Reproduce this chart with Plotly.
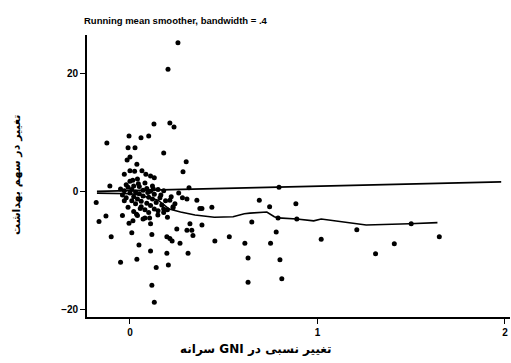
import plotly.graph_objects as go

# Scatter points (relative change in GNI per capita, change in share)
pts_x = [0.256, 0.203, 0.128, 0.213, 0.235, -0.123, -0.005, 0.059, 0.100, -0.010, 0.027,
         0.180, 0.300, 0.283, 0.000, -0.015, 0.037,
         -0.030, 0.000, 0.025, 0.064, 0.085, 0.110, 0.130,
         -0.180, -0.165, -0.128, -0.107, -0.100, -0.050, -0.040, -0.005, 0.016, 0.010,
         0.048, 0.037, 0.117, 0.110, 0.117, 0.130, 0.140, 0.110, 0.105, 0.080, 0.149,
         0.180, 0.200, 0.180, 0.230, 0.197, 0.213, 0.225, 0.197, 0.205, 0.250, 0.267,
         0.304, 0.310, 0.320, 0.330, 0.336, 0.384, 0.384, 0.357, 0.373, 0.437, 0.453,
         0.530, 0.613, 0.630, 0.630, 0.650, 0.690, 0.745, 0.795, 0.885, 0.780, 0.750,
         0.800, 0.810, 0.790, 0.890, 1.020, 1.210, 1.310, 1.410, 1.500, 1.650,
         0.213, 0.304, 0.230, 0.315,
         -0.05, -0.04, -0.03, -0.02, -0.02, -0.01, 0.00, 0.00, 0.01, 0.01, 0.02, 0.02,
         0.03, 0.03, 0.04, 0.04, 0.05, 0.05, 0.06, 0.06, 0.07, 0.07, 0.08, 0.08, 0.09,
         0.09, 0.10, 0.10, 0.11, 0.11, 0.12, 0.12, 0.13, 0.13, 0.14, 0.15, 0.15, 0.16,
         0.17, 0.18, 0.19, 0.20, 0.22, 0.24, 0.26, 0.28, 0.02, -0.01, 0.04, 0.07,
         -0.03, 0.015, 0.045, 0.095, 0.125, 0.165, 0.055, 0.035]
pts_y = [25.3, 20.8, 11.5, 11.7, 11.0, 8.3, 9.5, 9.2, 9.5, 7.5, 7.5,
         6.6, 5.1, 3.4, 5.9, 5.4, 4.7,
         3.0, 3.6, 3.5, 3.6, 3.0, 2.7, 2.4,
         -1.8, -5.0, -4.1, 1.0, -7.6, -11.9, -4.0, -5.3, -4.9, -6.9,
         -9.0, -11.4, -7.2, -10.0, -15.8, -18.7, -12.8, -5.4, -4.4, -4.4, -3.9,
         -3.5, -4.3, -2.9, -2.5, -7.6, -7.9, -8.3, -10.4, -12.4, -6.3, -8.7,
         -6.5, -10.4, -5.4, -6.5, -7.4, -5.6, -2.8, -1.4, -2.8, -2.6, -8.3,
         -7.6, -8.7, -11.2, -15.3, -5.1, -1.4, -2.5, 0.8, -2.0, -6.8, -8.7,
         -11.5, -14.7, -4.4, -4.6, -8.0, -6.4, -10.5, -8.8, -5.4, -7.6,
         -1.4, -1.2, -2.7, 0.7,
         0.5, -0.5, 0.2, 1.2, -1.0, 0.8, -0.2, 1.8, -1.5, 0.4, -0.8, 1.0,
         -2.0, 0.0, 2.2, -1.2, -0.3, 0.9, -2.5, -1.6, 0.3, -0.7, 1.5, -3.0, -1.9,
         0.6, -0.9, -3.5, 0.1, -2.3, -1.2, 1.0, -2.9, -0.4, -1.8, 0.4, -3.2, -1.0,
         -2.2, 0.2, -1.5, -3.0, -0.8, -2.0, -0.2, -1.0, -3.3, -2.6, -4.0, -4.6,
         -1.5, 2.0, 1.4, -0.1, 0.5, -0.5, -2.8, -3.8]

# Running mean smoother
smooth_x = [-0.176, 0.0, 0.05, 0.10, 0.15, 0.21, 0.27, 0.347, 0.45, 0.55, 0.61, 0.64,
            0.73, 0.77, 0.79, 0.89, 0.98, 1.02, 1.26, 1.49, 1.64]
smooth_y = [-0.2, -0.3, -0.5, -1.0, -1.4, -2.9, -3.4, -3.9, -4.3, -4.2, -3.7, -3.6,
            -3.4, -4.2, -4.4, -4.6, -4.9, -4.6, -5.6, -5.4, -5.2]

# Reference (fit) line
fit_x = [-0.176, 1.98]
fit_y = [0.1, 1.7]

x_ticks = [0, 1, 2]
y_ticks = [-20, 0, 20]

title_text = "Running mean smoother, bandwidth = .4"
x_title = "\u202bتغییر نسبی در GNI سرانه\u202c"
y_title = "\u202bتغییر در سهم بهداشت\u202c"

fig = go.Figure()
fig.add_trace(go.Scatter(x=fit_x, y=fit_y, mode="lines",
                         line=dict(color="black", width=1.6), hoverinfo="skip"))
fig.add_trace(go.Scatter(x=smooth_x, y=smooth_y, mode="lines",
                         line=dict(color="black", width=1.6), hoverinfo="skip"))
fig.add_trace(go.Scatter(x=pts_x, y=pts_y, mode="markers",
                         marker=dict(color="black", size=5)))

font_fam = "Liberation Sans, Arial, sans-serif"
fig.update_layout(
    width=511, height=363,
    margin=dict(l=87, r=1, t=35, b=46),
    paper_bgcolor="white", plot_bgcolor="white",
    showlegend=False,
    font=dict(family=font_fam, color="black"),
)
fig.update_xaxes(range=[-0.229, 2.027], tickvals=x_ticks, ticks="outside", ticklen=5,
                 tickwidth=1.3, tickcolor="black", showline=True, linecolor="black",
                 linewidth=1.6, showgrid=False, zeroline=False, ticklabeloverflow="allow",
                 tickfont=dict(size=10, family=font_fam, weight="bold"))
fig.update_yaxes(range=[-21.2, 26.6], tickvals=y_ticks, ticks="outside", ticklen=5,
                 tickwidth=1.3, tickcolor="black", showline=True, linecolor="black",
                 linewidth=1.6, showgrid=False, zeroline=False,
                 tickfont=dict(size=10, family=font_fam, weight="bold"))

# positions below are expressed relative to the plot area (page px: left 87, top 35, bottom 317)
fig.add_annotation(text=title_text, xref="paper", yref="paper",
                   x=(82 - 87) / 423, y=(317 - 20) / 282,
                   xanchor="left", yanchor="middle", showarrow=False,
                   font=dict(size=9.5, family=font_fam, weight="bold"))
fig.add_annotation(text=x_title, xref="paper", yref="paper",
                   x=(256 - 87) / 423, y=-(349 - 317) / 282,
                   xanchor="center", yanchor="middle", showarrow=False,
                   font=dict(size=12, family="DejaVu Sans, sans-serif", weight="bold"))
fig.add_annotation(text=y_title, xref="paper", yref="paper",
                   x=-(87 - 16) / 423, y=(317 - 175) / 282, textangle=-90,
                   xanchor="center", yanchor="middle", showarrow=False,
                   font=dict(size=11, family="DejaVu Sans, sans-serif", weight="bold"))

fig.write_html("out.html", config={"displayModeBar": False},
               post_script="document.body.style.margin='0';document.body.style.overflow='hidden';")
